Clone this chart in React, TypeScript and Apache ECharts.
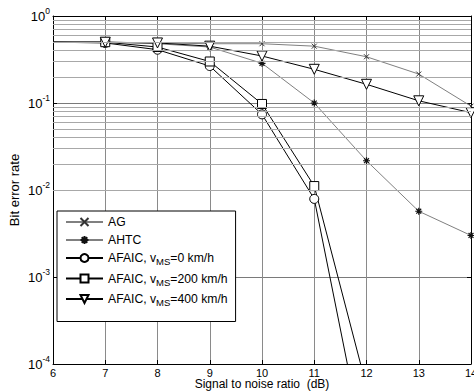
import React, { useEffect, useRef } from "react";
import * as echarts from "echarts";

const snr = [6, 7, 8, 9, 10, 11, 12, 13, 14];
const agBer = [0.5, 0.5, 0.49, 0.48, 0.48, 0.45, 0.34, 0.215, 0.092];
const ahtcBer = [0.5, 0.5, 0.48, 0.44, 0.286, 0.1, 0.0217, 0.0057, 0.003];
const afaic0Ber = [0.5, 0.49, 0.41, 0.266, 0.074, 0.0079, 8e-6];
const afaic200Ber = [0.5, 0.5, 0.44, 0.3, 0.0975, 0.0111, 5.5e-5];
const afaic400Ber = [0.5, 0.5, 0.49, 0.45, 0.347, 0.244, 0.164, 0.106, 0.0774];
const decades = [-4, -3, -2, -1, 0];
const minorMultipliers = [2, 3, 4, 5, 6, 7, 8, 9];

const FONT = "Liberation Sans, Arial, sans-serif";

const xSym = "path://M0,0L10,10M10,0L0,10";
const starSym = "path://M5,0L5,10M0,5L10,5M1.5,1.5L8.5,8.5M8.5,1.5L1.5,8.5";

function toData(vals: number[]) {
  return vals.map((v, i) =>
    i === 0 ? { value: [snr[i], v], symbol: "none" } : { value: [snr[i], v] }
  );
}

const legendNames: Record<string, string> = {
  AG: "AG",
  AHTC: "AHTC",
  A0: "AFAIC, v{sub|MS}=0 km/h",
  A200: "AFAIC, v{sub|MS}=200 km/h",
  A400: "AFAIC, v{sub|MS}=400 km/h",
};

export default function App() {
  const ref = useRef<HTMLDivElement>(null);
  useEffect(() => {
    document.body.style.margin = "0";
    const chart = echarts.init(ref.current!, null, { renderer: "svg", width: 474, height: 391 });
    const minorVals: number[] = [];
    decades.slice(0, -1).forEach((d) =>
      minorMultipliers.forEach((m) => minorVals.push(m * Math.pow(10, d)))
    );
    const lineBase = {
      type: "line",
      xAxisIndex: 0,
      yAxisIndex: 0,
      clip: true,
      z: 3,
    };
    chart.setOption({
      animation: false,
      backgroundColor: "#fff",
      textStyle: { fontFamily: FONT },
      grid: {
        left: 53,
        top: 16,
        right: 3,
        bottom: 27,
        containLabel: false,
        outerBoundsMode: "none",
      },
      legend: {
        orient: "vertical",
        left: 57,
        top: 211,
        backgroundColor: "#fff",
        borderColor: "#000",
        borderWidth: 1,
        borderRadius: 0,
        padding: [5, 8, 14, 8],
        itemWidth: 37,
        itemHeight: 10,
        itemGap: 6,
        data: ["AG", "AHTC", "A0", "A200", "A400"],
        formatter: (n: string) => legendNames[n],
        textStyle: {
          fontFamily: FONT,
          fontSize: 12.2,
          color: "#000",
          rich: {
            sub: { fontSize: 9.5, fontFamily: FONT, color: "#000", padding: [7, 0, 0, 0] },
          },
        },
      },
      xAxis: [
        {
          type: "value",
          min: 6,
          max: 14,
          interval: 1,
          name: "Signal to noise ratio  (dB)",
          nameLocation: "middle",
          nameGap: 14,
          nameMoveOverlap: false,
          nameTextStyle: { fontFamily: FONT, fontSize: 12, lineHeight: 12, color: "#000" },
          axisLine: { show: true, onZero: false, lineStyle: { color: "#000", width: 1 } },
          axisTick: { show: true, inside: true, length: 4, lineStyle: { color: "#000" } },
          axisLabel: { fontFamily: FONT, fontSize: 11, lineHeight: 11, color: "#000", margin: 3 },
          splitLine: { show: true, lineStyle: { color: "#8a8a8a", width: 1 } },
        },
        {
          type: "value",
          min: 6,
          max: 14,
          interval: 1,
          position: "top",
          axisLine: { show: true, lineStyle: { color: "#000", width: 1 } },
          axisTick: { show: true, inside: true, length: 4, lineStyle: { color: "#000" } },
          axisLabel: { show: false },
          splitLine: { show: false },
        },
      ],
      yAxis: [
        {
          type: "log",
          logBase: 10,
          min: 1e-4,
          max: 1,
          name: "Bit error rate",
          nameLocation: "middle",
          nameGap: 32,
          nameMoveOverlap: false,
          nameRotate: 90,
          nameTextStyle: { fontFamily: FONT, fontSize: 13, color: "#000" },
          axisLine: { show: true, onZero: false, lineStyle: { color: "#000", width: 1 } },
          axisTick: { show: true, inside: true, length: 4, lineStyle: { color: "#000" } },
          axisLabel: {
            fontFamily: FONT,
            color: "#000",
            margin: 3,
            formatter: (v: number) => `{b|10}{s|${Math.round(Math.log10(v))}}`,
            rich: {
              b: { fontSize: 13, fontFamily: FONT, color: "#000" },
              s: { fontSize: 8.5, fontFamily: FONT, color: "#000", padding: [0, 0, 10, 0] },
            },
          },
          splitLine: { show: true, lineStyle: { color: "#7a7a7a", width: 1 } },
        },
        {
          type: "log",
          logBase: 10,
          min: 1e-4,
          max: 1,
          position: "right",
          axisLine: { show: true, lineStyle: { color: "#000", width: 1 } },
          axisTick: { show: true, inside: true, length: 4, lineStyle: { color: "#000" } },
          axisLabel: { show: false },
          splitLine: { show: false },
        },
      ],
      series: [
        {
          type: "line",
          name: "grid",
          data: [],
          z: 1,
          silent: true,
          markLine: {
            silent: true,
            symbol: "none",
            label: { show: false },
            lineStyle: { color: "#a8a8a8", width: 1, type: "solid" },
            data: minorVals.map((v) => ({ yAxis: v })),
          },
        },
        {
          ...lineBase,
          name: "AG",
          data: toData(agBer),
          symbol: xSym,
          symbolSize: 5,
          lineStyle: { color: "#808080", width: 1 },
          itemStyle: { color: "transparent", borderColor: "#333", borderWidth: 1 },
        },
        {
          ...lineBase,
          name: "AHTC",
          data: toData(ahtcBer),
          symbol: starSym,
          symbolSize: 7,
          lineStyle: { color: "#808080", width: 1 },
          itemStyle: { color: "transparent", borderColor: "#111", borderWidth: 1.2 },
        },
        {
          ...lineBase,
          name: "A0",
          data: toData(afaic0Ber),
          symbol: "circle",
          symbolSize: 9,
          lineStyle: { color: "#000", width: 1 },
          itemStyle: { color: "#fff", borderColor: "#000", borderWidth: 1 },
        },
        {
          ...lineBase,
          name: "A200",
          data: toData(afaic200Ber),
          symbol: "rect",
          symbolSize: 9,
          lineStyle: { color: "#000", width: 1 },
          itemStyle: { color: "#fff", borderColor: "#000", borderWidth: 1 },
        },
        {
          ...lineBase,
          name: "A400",
          data: toData(afaic400Ber),
          symbol: "triangle",
          symbolRotate: 180,
          symbolSize: 10,
          lineStyle: { color: "#000", width: 1 },
          itemStyle: { color: "#fff", borderColor: "#000", borderWidth: 1 },
        },
      ],
    });
    return () => chart.dispose();
  }, []);
  return <div ref={ref} style={{ width: 474, height: 391, background: "#fff" }} />;
}
